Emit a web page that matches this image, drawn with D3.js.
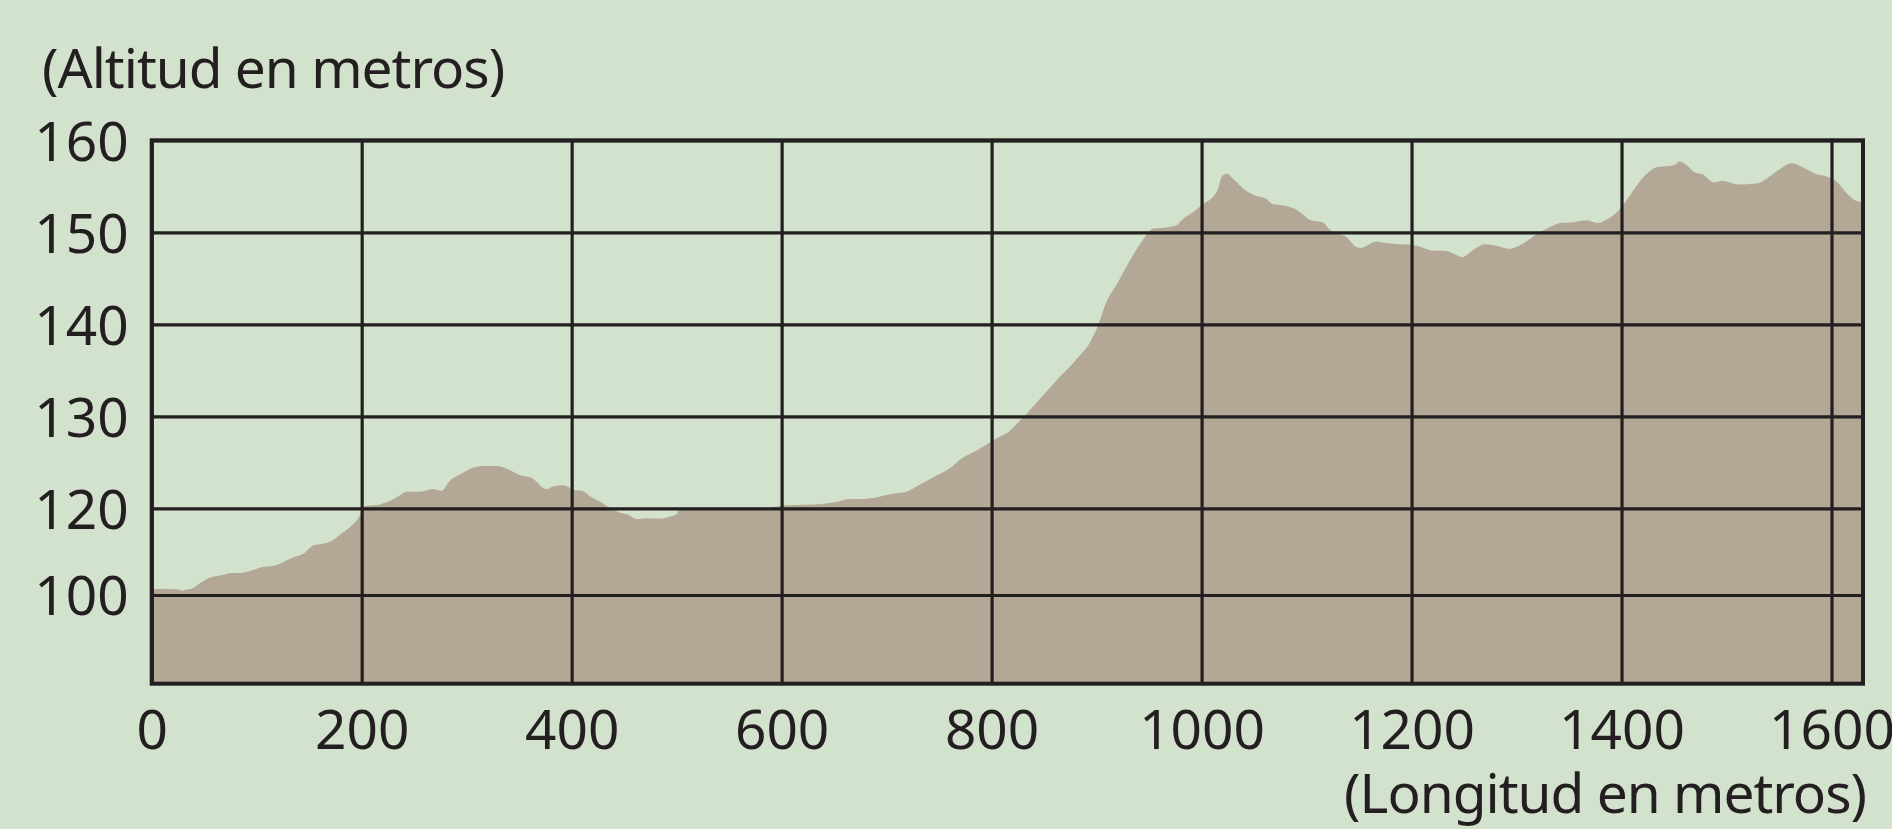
<!doctype html>
<html lang="es">
<head>
    <meta charset="utf-8">
    <title>Perfil de altitud</title>
    <script src="https://cdnjs.cloudflare.com/ajax/libs/d3/7.8.5/d3.min.js" type="text/JavaScript"></script>
    <style>
        body { margin: 0; background: #d3e2cd; }
        svg { display: block; }
        svg text { font-family: "Noto Sans", "Open Sans", sans-serif; }
    </style>
</head>
<body>

<div id="chart"></div>

<script>

    // distance along the route (m) and altitude (m)
    const distancia = [0, 2, 11, 20, 25, 29, 34, 38, 46, 55, 62, 68, 75, 84, 94, 103, 119, 135, 145, 154,
        163, 172, 181, 189, 198, 202, 217, 225, 235, 243, 256, 268, 276, 284, 294, 306, 316, 329, 338, 351,
        362, 376, 383, 392, 402, 410, 418, 427, 437, 446, 454, 462, 472, 484, 494, 500, 502, 507, 540, 579,
        602, 640, 653, 665, 675, 691, 707, 719, 726, 745, 761, 770, 786, 799, 808, 816, 825, 835, 850, 865,
        880, 895, 900, 910, 918, 929, 942, 954, 964, 977, 981, 992, 1002, 1012, 1016, 1019, 1024, 1031, 1040, 1051,
        1062, 1067, 1078, 1091, 1097, 1104, 1115, 1123, 1139, 1145, 1151, 1167, 1176, 1189, 1202, 1209, 1216, 1220, 1231, 1240,
        1248, 1259, 1270, 1282, 1293, 1305, 1318, 1329, 1342, 1355, 1367, 1377, 1386, 1399, 1408, 1421, 1434, 1450, 1455, 1462,
        1470, 1477, 1488, 1496, 1510, 1529, 1539, 1550, 1562, 1572, 1586, 1597, 1604, 1615, 1624, 1630];

    const altitud = [101.2, 101.3, 101.45, 101.3, 101.3, 101.0, 101.3, 101.45, 102.7, 104.0, 104.4, 104.6, 105.1, 105.1, 105.6, 106.3, 106.9, 108.7, 109.6, 111.4,
        111.8, 112.6, 114.2, 115.7, 118.2, 120.2, 120.4, 120.7, 121.3, 121.8, 121.8, 122.1, 121.9, 123.0, 123.7, 124.4, 124.6, 124.6, 124.3, 123.6,
        123.3, 122.1, 122.4, 122.5, 122.0, 121.9, 121.25, 120.7, 120.0, 119.0, 118.5, 117.5, 117.7, 117.6, 118.1, 118.6, 119.6, 119.9, 119.9, 119.8,
        120.3, 120.5, 120.7, 121.0, 121.0, 121.2, 121.6, 121.8, 122.2, 123.4, 124.4, 125.3, 126.3, 127.2, 127.8, 128.3, 129.3, 130.5, 132.4, 134.3,
        136.1, 138.3, 139.5, 142.6, 144.1, 146.4, 148.8, 150.4, 150.5, 150.8, 151.3, 152.2, 153.1, 154.0, 154.8, 156.0, 156.4, 155.7, 154.7, 154.0,
        153.6, 153.1, 152.9, 152.4, 151.9, 151.3, 151.1, 150.2, 149.4, 148.6, 148.3, 149.0, 148.8, 148.7, 148.6, 148.4, 148.1, 148.0, 148.0, 147.7,
        147.3, 148.1, 148.7, 148.5, 148.2, 148.7, 149.7, 150.4, 151.0, 151.1, 151.3, 151.0, 151.4, 152.6, 154.0, 156.0, 157.1, 157.3, 157.7, 157.3,
        156.5, 156.3, 155.4, 155.6, 155.2, 155.3, 155.9, 156.8, 157.5, 157.1, 156.3, 156.0, 155.6, 154.2, 153.4, 153.3];

    const xTicks = [0, 200, 400, 600, 800, 1000, 1200, 1400, 1600];
    const yTicks = [100, 120, 130, 140, 150, 160];

    const width = 1892, height = 829;
    const ink = "#231f20";
    const fontFam = '"Noto Sans", "Open Sans", sans-serif';

    const x = d3.scaleLinear()
        .domain([0, 1630])
        .range([151.7, 1863]);

    // the axis is cut below 120: 100 sits one step under 120
    const y = d3.scaleLinear()
        .domain([80, 100, 120, 160])
        .range([683.7, 595, 508.3, 140.3]);

    const svg = d3.select("#chart").append("svg")
        .attr("width", width)
        .attr("height", height);

    const perfil = distancia.map((d, i) => ({d: d, a: altitud[i]}));

    const area = d3.area()
        .x(p => x(p.d))
        .y0(y(80))
        .y1(p => y(p.a))
        .curve(d3.curveMonotoneX);

    svg.append("path")
        .datum(perfil)
        .attr("fill", "#b3a795")
        .attr("d", area);

    // grid + labels through the axes
    const plotW = x(1630) - x(0);
    const plotH = y(80) - y(160);

    const xAxis = svg.append("g")
        .attr("transform", `translate(0,${y(80)})`)
        .call(d3.axisBottom(x).tickValues(xTicks).tickFormat(d3.format("d"))
            .tickSize(-plotH).tickPadding(26));

    const yAxis = svg.append("g")
        .attr("transform", `translate(${x(0)},0)`)
        .call(d3.axisLeft(y).tickValues(yTicks).tickFormat(d3.format("d"))
            .tickSize(-plotW).tickPadding(23));

    [xAxis, yAxis].forEach(g => {
        g.attr("font-family", fontFam).attr("font-size", 55);
        g.select(".domain").remove();
        g.selectAll(".tick line").attr("stroke", ink).attr("stroke-width", 3.2);
        g.selectAll(".tick text").attr("fill", ink);
    });
    yAxis.selectAll(".tick text").attr("dy", "0.36em");

    // frame
    svg.append("rect")
        .attr("x", x(0))
        .attr("y", y(160))
        .attr("width", plotW)
        .attr("height", plotH)
        .attr("fill", "none")
        .attr("stroke", ink)
        .attr("stroke-width", 4);

    svg.append("text")
        .attr("x", 42)
        .attr("y", 88)
        .attr("fill", ink)
        .style("font-size", "55px")
        .style("letter-spacing", "-1px")
        .text("(Altitud en metros)");

    svg.append("text")
        .attr("x", 1866)
        .attr("y", 813)
        .attr("text-anchor", "end")
        .attr("fill", ink)
        .style("font-size", "55px")
        .style("letter-spacing", "-1px")
        .text("(Longitud en metros)");

</script>

</body>
</html>
